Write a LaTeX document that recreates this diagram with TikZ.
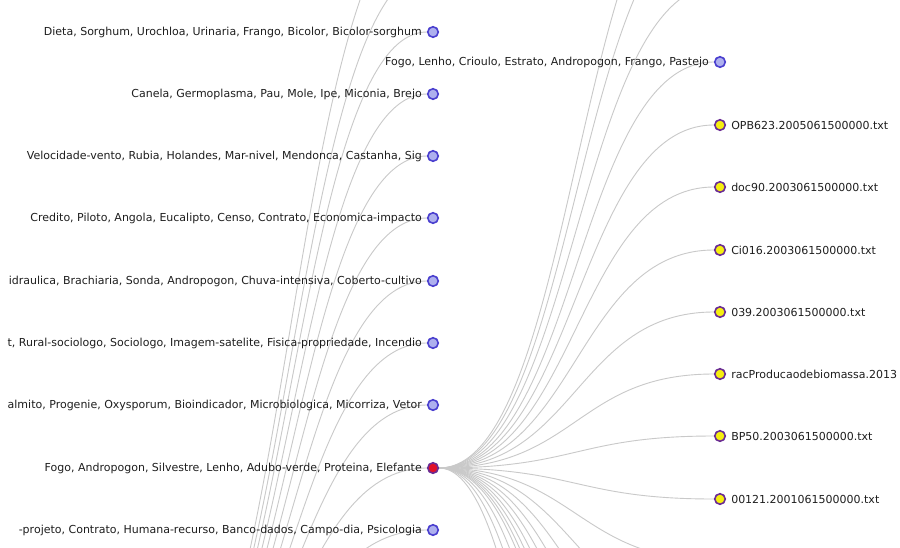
\documentclass[tikz,border=0pt]{standalone}
\usepackage{fontspec}
\setmainfont{DejaVu Sans}
\usepackage{tikz}
\usetikzlibrary{
positioning,
backgrounds
}
\definecolor{TMBlue}{HTML}{4A3FCF}
\definecolor{TMBlueBG}{HTML}{AEB0EE}
\definecolor{TMRed}{HTML}{E0102A}
\definecolor{TMPurple}{HTML}{6A2C94}
\definecolor{TMYellow}{HTML}{F6EE10}
\definecolor{TMEdge}{HTML}{C9C9C9}
\definecolor{TMText}{HTML}{1E1E1E}
\tikzset{
tmtopic/.style={circle, draw=TMBlue, fill=TMBlueBG, line width=1.6pt,
  minimum size=10.5pt, inner sep=0pt},
tmselected/.style={circle, draw=TMPurple, fill=TMRed, line width=1.6pt,
  minimum size=10.5pt, inner sep=0pt},
tmdoc/.style={circle, draw=TMPurple, fill=TMYellow, line width=1.6pt,
  minimum size=10.5pt, inner sep=0pt},
tmlabel/.style={inner sep=0pt, text=TMText, font=\fontsize{11}{13}\selectfont},
tmedge/.style={draw=TMEdge, line width=0.9pt}
}
\begin{document}
\begin{tikzpicture}[x=1pt, y=-1pt, node distance=5pt]
\useasboundingbox (0,0) rectangle (900,547);
\node[tmtopic] (t1) at (433,32) {};
\node[tmtopic] (t2) at (433,94) {};
\node[tmtopic] (t3) at (433,156) {};
\node[tmtopic] (t4) at (433,218) {};
\node[tmtopic] (t5) at (433,281) {};
\node[tmtopic] (t6) at (433,343) {};
\node[tmtopic] (t7) at (433,405) {};
\node[tmselected] (t8) at (433,468) {};
\node[tmtopic] (t9) at (433,530) {};
\node[tmtopic] (f1) at (720,62) {};
\node[tmdoc] (d1) at (720,125) {};
\node[tmdoc] (d2) at (720,187) {};
\node[tmdoc] (d3) at (720,250) {};
\node[tmdoc] (d4) at (720,312) {};
\node[tmdoc] (d5) at (720,374) {};
\node[tmdoc] (d6) at (720,436) {};
\node[tmdoc] (d7) at (720,499) {};
\node[tmlabel, left=of t1] (t1l) {Dieta, Sorghum, Urochloa, Urinaria, Frango, Bicolor, Bicolor-sorghum};
\node[tmlabel, left=of t2] (t2l) {Canela, Germoplasma, Pau, Mole, Ipe, Miconia, Brejo};
\node[tmlabel, left=of t3] (t3l) {Velocidade-vento, Rubia, Holandes, Mar-nivel, Mendonca, Castanha, Sig};
\node[tmlabel, left=of t4] (t4l) {Credito, Piloto, Angola, Eucalipto, Censo, Contrato, Economica-impacto};
\node[tmlabel, left=of t5] (t5l) {idraulica, Brachiaria, Sonda, Andropogon, Chuva-intensiva, Coberto-cultivo};
\node[tmlabel, left=of t6] (t6l) {t, Rural-sociologo, Sociologo, Imagem-satelite, Fisica-propriedade, Incendio};
\node[tmlabel, left=of t7] (t7l) {almito, Progenie, Oxysporum, Bioindicador, Microbiologica, Micorriza, Vetor};
\node[tmlabel, left=of t8] (t8l) {Fogo, Andropogon, Silvestre, Lenho, Adubo-verde, Proteina, Elefante};
\node[tmlabel, left=of t9] (t9l) {-projeto, Contrato, Humana-recurso, Banco-dados, Campo-dia, Psicologia};
\node[tmlabel, left=of f1] (f1l) {Fogo, Lenho, Crioulo, Estrato, Andropogon, Frango, Pastejo};
\node[tmlabel, right=of d1] (d1l) {OPB623.2005061500000.txt};
\node[tmlabel, right=of d2] (d2l) {doc90.2003061500000.txt};
\node[tmlabel, right=of d3] (d3l) {Ci016.2003061500000.txt};
\node[tmlabel, right=of d4] (d4l) {039.2003061500000.txt};
\node[tmlabel, right=of d5] (d5l) {racProducaodebiomassa.2013};
\node[tmlabel, right=of d6] (d6l) {BP50.2003061500000.txt};
\node[tmlabel, right=of d7] (d7l) {00121.2001061500000.txt};
\coordinate (hub) at (146,760);
\coordinate (ta) at (433,-31);
\coordinate (tb) at (433,-94);
\coordinate (u1) at (720,-15);
\coordinate (u2) at (720,-90);
\coordinate (u3) at (720,-150);
\foreach \n/\y in {1/561,2/623,3/685,4/748,5/810,6/873,7/935,8/998,9/1060,10/1185,11/1370,12/1620}
\coordinate (w\n) at (720,\y);
\begin{scope}[on background layer]
\clip (0,0) rectangle (900,547);
\fill[white] (0,0) rectangle (900,547);
\foreach \b in {tb,ta,t1,t2,t3,t4,t5,t6,t7,t8,t9}
\draw[tmedge] (hub) .. controls +(143.5,0) and +(-143.5,0) .. (\b);
\foreach \b in {u3,u2,u1,f1,d1,d2,d3,d4,d5,d6,d7,w1,w2,w3,w4,w5,w6,w7,w8,w9,w10,w11,w12}
\draw[tmedge] (t8) .. controls +(143.5,0) and +(-143.5,0) .. (\b);
\end{scope}
\end{tikzpicture}
\end{document}
